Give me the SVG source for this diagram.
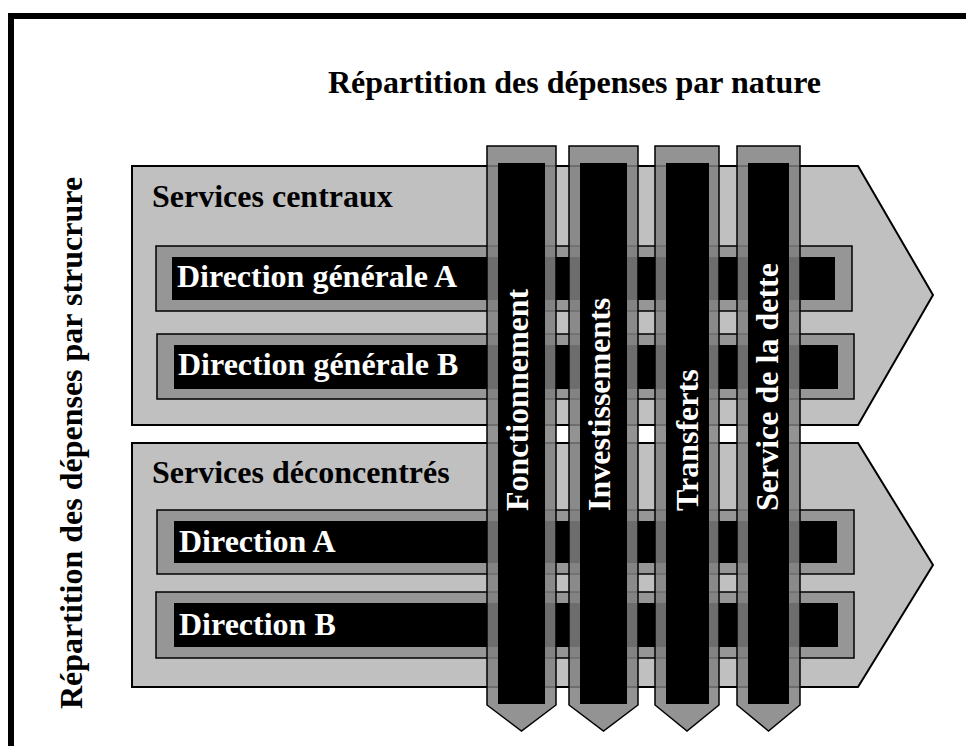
<svg xmlns="http://www.w3.org/2000/svg" width="966" height="746" viewBox="0 0 966 746">
  <style>
    .lbl { font-family: "Liberation Serif", "Times New Roman", serif; font-weight: bold; font-size: 32px; }
    .dark { fill: #000000; }
    .light { fill: #ffffff; }
    .band { fill: #c0c0c0; stroke: #000000; stroke-width: 2; stroke-linejoin: miter; }
    .line { fill: #969696; stroke: #000000; stroke-width: 1.5; }
    .core { fill: #000000; }
    .col { fill: #808080; fill-opacity: 0.85; stroke: #000000; stroke-width: 1.5; stroke-linejoin: miter; }
  </style>

  <rect x="0" y="0" width="966" height="746" fill="#ffffff"/>
  <!-- outer frame, open on the right and bottom edges -->
  <rect x="11" y="16" width="1000" height="800" fill="none" stroke="#000000" stroke-width="6"/>

  <!-- axis titles -->
  <text class="lbl dark" x="328" y="93">Répartition des dépenses par nature</text>
  <text class="lbl dark" transform="translate(82,709) rotate(-90)">Répartition des dépenses par strucrure</text>

  <!-- structure bands -->
  <g id="services-centraux">
    <polygon class="band" points="132,166 858,166 933,295 858,425 132,425"/>
    <text class="lbl dark" x="152" y="207">Services centraux</text>
  </g>
  <g id="direction-generale-a">
    <rect class="line" x="156" y="246" width="696" height="65"/>
    <rect class="core" x="172" y="257" width="663" height="43"/>
    <text class="lbl light" x="177" y="287">Direction générale A</text>
  </g>
  <g id="direction-generale-b">
    <rect class="line" x="157" y="334" width="697" height="65"/>
    <rect class="core" x="174" y="345" width="664" height="44"/>
    <text class="lbl light" x="178" y="375">Direction générale B</text>
  </g>

  <g id="services-deconcentres">
    <polygon class="band" points="132,443 858,443 933,565 858,687 132,687"/>
    <text class="lbl dark" x="152" y="483">Services déconcentrés</text>
  </g>
  <g id="direction-a">
    <rect class="line" x="157" y="510" width="697" height="64"/>
    <rect class="core" x="174" y="521" width="663" height="42"/>
    <text class="lbl light" x="179" y="552">Direction A</text>
  </g>
  <g id="direction-b">
    <rect class="line" x="156" y="592" width="698" height="66"/>
    <rect class="core" x="174" y="603" width="664" height="44"/>
    <text class="lbl light" x="179" y="635">Direction B</text>
  </g>

  <!-- nature columns laid across the bands -->
  <g id="fonctionnement">
    <polygon class="col" points="487,146 556,146 556,705 521.5,731 487,705"/>
    <rect class="core" x="498" y="163" width="47" height="541"/>
    <text class="lbl light" transform="translate(528,511) rotate(-90)">Fonctionnement</text>
  </g>
  <g id="investissements">
    <polygon class="col" points="569,146 638,146 638,705 603.5,731 569,705"/>
    <rect class="core" x="580" y="163" width="47" height="541"/>
    <text class="lbl light" transform="translate(609.5,511) rotate(-90)">Investissements</text>
  </g>
  <g id="transferts">
    <polygon class="col" points="655,146 719,146 719,705 687,731 655,705"/>
    <rect class="core" x="666" y="163" width="43" height="541"/>
    <text class="lbl light" transform="translate(698,511) rotate(-90)">Transferts</text>
  </g>
  <g id="service-de-la-dette">
    <polygon class="col" points="737,146 800,146 800,705 768.5,731 737,705"/>
    <rect class="core" x="748" y="163" width="41" height="541"/>
    <text class="lbl light" transform="translate(778,511) rotate(-90)">Service de la dette</text>
  </g>

  <!-- no connectors in this chart -->
  <g id="connectors"/>
</svg>
